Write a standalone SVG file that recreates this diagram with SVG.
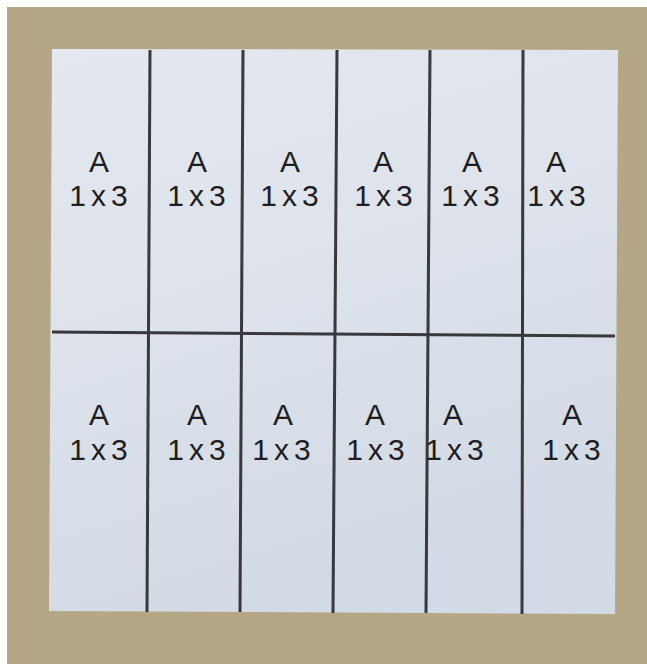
<svg xmlns="http://www.w3.org/2000/svg" width="647" height="664" viewBox="0 0 647 664">
<defs>
<linearGradient id="paper" x1="0" y1="0" x2="0.3" y2="1">
<stop offset="0" stop-color="#e4e8f0"/>
<stop offset="0.5" stop-color="#dde2eb"/>
<stop offset="1" stop-color="#d2dae5"/>
</linearGradient>
<style>
.ln{stroke:#38383d;stroke-width:3;fill:none;stroke-linecap:butt}
.t{font-family:"Liberation Sans",Arial,sans-serif;font-size:30px;fill:#1e1e22;text-anchor:middle}
.n{letter-spacing:5px}
</style>
</defs>
<rect width="647" height="664" fill="#ffffff"/>
<rect x="7" y="7" width="640" height="657" fill="#b5a786"/>
<polygon points="52,49 618,50 615,614 49,611" fill="url(#paper)"/>
<g id="connectors">
<line class="ln" x1="52" y1="332" x2="615" y2="336"/>
<line class="ln" x1="150" y1="50" x2="147" y2="612"/>
<line class="ln" x1="243" y1="50" x2="240" y2="612"/>
<line class="ln" x1="337" y1="50" x2="333" y2="613"/>
<line class="ln" x1="430" y1="50" x2="426" y2="613"/>
<line class="ln" x1="523" y1="50" x2="522" y2="614"/>
</g>
<g id="r1c1"><text class="t" x="99" y="172">A</text><text class="t n" x="101" y="206">1x3</text></g>
<g id="r1c2"><text class="t" x="197" y="172">A</text><text class="t n" x="199" y="206">1x3</text></g>
<g id="r1c3"><text class="t" x="290" y="172">A</text><text class="t n" x="292" y="206">1x3</text></g>
<g id="r1c4"><text class="t" x="383" y="172">A</text><text class="t n" x="386" y="206">1x3</text></g>
<g id="r1c5"><text class="t" x="472" y="172">A</text><text class="t n" x="473" y="206">1x3</text></g>
<g id="r1c6"><text class="t" x="556" y="172">A</text><text class="t n" x="559" y="206">1x3</text></g>
<g id="r2c1"><text class="t" x="99" y="425">A</text><text class="t n" x="101" y="460">1x3</text></g>
<g id="r2c2"><text class="t" x="197" y="425">A</text><text class="t n" x="199" y="460">1x3</text></g>
<g id="r2c3"><text class="t" x="283" y="425">A</text><text class="t n" x="284" y="460">1x3</text></g>
<g id="r2c4"><text class="t" x="375" y="425">A</text><text class="t n" x="378" y="460">1x3</text></g>
<g id="r2c5"><text class="t" x="453" y="425">A</text><text class="t n" x="457" y="460">1x3</text></g>
<g id="r2c6"><text class="t" x="572" y="425">A</text><text class="t n" x="574" y="460">1x3</text></g>
</svg>
